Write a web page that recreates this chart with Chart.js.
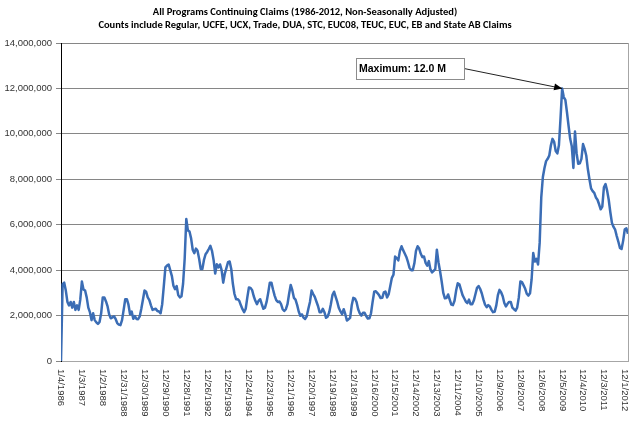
<!DOCTYPE html>
<html>
<head>
<meta charset="utf-8">
<script src="https://cdn.jsdelivr.net/npm/chart.js@4.4.1/dist/chart.umd.min.js"></script>
<style>
  html, body { margin: 0; padding: 0; background: #fff; }
  #wrap { width: 640px; height: 426px; }
</style>
</head>
<body>
<div id="wrap"><canvas id="claimsChart" width="640" height="426"></canvas></div>
<script>
// all programs continuing claims, millions, one reading every 4 weeks from 1/4/1986
const claims1986to1989 = [
  0, 3.38, 3.45, 3.1, 2.6, 2.45, 2.6, 2.35, 2.6, 2.25, 2.45, 2.25, 2.7,
  3.5, 3.15, 3.1, 2.8, 2.35, 2.15, 1.8, 2.1, 1.8, 1.7, 1.63, 1.72, 2.1,
  2.8, 2.8, 2.62, 2.4, 2.05, 1.88, 1.92, 1.97, 1.85, 1.67, 1.6, 1.58, 1.8,
  2.25, 2.72, 2.72, 2.48, 2.06, 2.18, 1.86, 1.98, 1.85, 1.84, 1.96, 2.3, 2.7
];
const claims1990to1993 = [
  3.1, 3.05, 2.8, 2.68, 2.45, 2.25, 2.28, 2.3, 2.2, 2.18, 2.1, 2.5, 3.3,
  4.12, 4.2, 4.25, 4.0, 3.75, 3.31, 3.16, 3.3, 2.9, 2.8, 2.85, 3.4, 4.5,
  6.25, 5.75, 5.7, 5.4, 4.9, 4.75, 4.95, 4.85, 4.5, 4.05, 4.05, 4.45, 4.7,
  4.8, 4.93, 5.07, 4.85, 4.45, 3.85, 4.26, 4.12, 4.25, 4.0, 3.45, 3.85, 4.1
];
const claims1994to1997 = [
  4.35, 4.38, 4.05, 3.4, 2.95, 2.72, 2.72, 2.65, 2.45, 2.28, 2.15, 2.3, 2.8,
  3.24, 3.22, 3.12, 2.85, 2.65, 2.5, 2.65, 2.72, 2.5, 2.3, 2.35, 2.6, 3.0,
  3.45, 3.45, 3.15, 2.88, 2.68, 2.6, 2.62, 2.5, 2.28, 2.2, 2.28, 2.5, 2.95,
  3.35, 3.12, 2.78, 2.7, 2.47, 2.18, 1.99, 2.05, 1.91, 1.85, 1.97, 2.3, 2.6
];
const claims1998to2001 = [
  3.1, 2.95, 2.82, 2.62, 2.42, 2.15, 2.15, 2.3, 2.15, 1.9, 1.95, 2.15, 2.5,
  2.9, 3.05, 2.82, 2.6, 2.33, 2.18, 2.06, 2.28, 2.06, 1.78, 1.84, 1.9, 2.45,
  2.78, 2.75, 2.6, 2.28, 2.1, 2.0, 2.12, 2.12, 1.98, 1.87, 1.88, 2.1, 2.6,
  3.05, 3.07, 2.99, 2.9, 2.77, 2.78, 3.02, 3.06, 2.8, 2.94, 3.3, 3.66, 3.8
];
const claims2002to2005 = [
  4.6, 4.53, 4.43, 4.85, 5.05, 4.88, 4.73, 4.58, 4.36, 4.1, 4.0, 4.0, 4.3,
  4.85, 5.05, 4.95, 4.72, 4.57, 4.6, 4.32, 4.2, 4.4, 4.03, 3.9, 3.97, 4.04,
  4.9, 4.35, 3.95, 3.5, 3.0, 2.76, 2.77, 2.93, 2.7, 2.48, 2.46, 2.65, 3.1,
  3.42, 3.38, 3.14, 2.9, 2.76, 2.62, 2.55, 2.7, 2.5, 2.5, 2.66, 2.94, 3.22
];
const claims2006to2009 = [
  3.3, 3.17, 2.97, 2.7, 2.48, 2.37, 2.46, 2.4, 2.25, 2.15, 2.17, 2.45, 2.9,
  3.13, 3.03, 2.85, 2.55, 2.4, 2.52, 2.6, 2.6, 2.35, 2.28, 2.22, 2.35, 2.79,
  3.5, 3.47, 3.33, 3.18, 2.96, 2.88, 2.98, 3.6, 4.75, 4.38, 4.5, 4.25, 5.2,
  7.2, 8.1, 8.5, 8.8, 8.9, 9.05, 9.5, 9.78, 9.65, 9.24, 9.14, 9.5, 10.7
];
const claims2010to2012 = [
  12.0, 11.62, 11.5, 10.95, 10.35, 9.78, 9.45, 8.5, 10.1, 9.15, 8.68, 8.7, 8.9,
  9.55, 9.34, 9.05, 8.45, 8.0, 7.6, 7.48, 7.4, 7.2, 7.1, 6.9, 6.68, 6.8,
  7.65, 7.79, 7.5, 7.1, 6.55, 6.08, 5.9, 5.78, 5.5, 5.25, 4.98, 4.93, 5.3,
  5.8, 5.84, 5.6
];

// one label every 52 weeks = every 13 readings
const xTickLabels = [
  "1/4/1986", "1/3/1987", "1/2/1988", "12/31/1988", "12/30/1989", "12/29/1990",
  "12/28/1991", "12/26/1992", "12/25/1993", "12/24/1994", "12/23/1995", "12/21/1996",
  "12/20/1997", "12/19/1998", "12/18/1999", "12/16/2000", "12/15/2001", "12/14/2002",
  "12/13/2003", "12/11/2004", "12/10/2005", "12/9/2006", "12/8/2007", "12/6/2008",
  "12/5/2009", "12/4/2010", "12/3/2011", "12/1/2012"
];
const POINTS_PER_LABEL = 13;

const titleLines = [
  "All Programs Continuing Claims (1986-2012, Non-Seasonally Adjusted)",
  "Counts include Regular, UCFE, UCX, Trade, DUA, STC, EUC08, TEUC, EUC, EB and State AB Claims"
];

const allClaims = [].concat(claims1986to1989, claims1990to1993, claims1994to1997,
  claims1998to2001, claims2002to2005, claims2006to2009, claims2010to2012);
const points = allClaims.map((v, i) => ({ x: i, y: v }));

const FONT = "'Liberation Sans', Arial, sans-serif";

const decorPlugin = {
  id: "decor",
  afterDraw(chart) {
    const { ctx, chartArea: area, scales: { x, y } } = chart;
    ctx.save();

    // right edge of the plot area
    ctx.strokeStyle = "#a6a6a6";
    ctx.lineWidth = 1;
    ctx.beginPath();
    ctx.moveTo(Math.round(area.right) + 0.5, area.top);
    ctx.lineTo(Math.round(area.right) + 0.5, area.bottom);
    ctx.stroke();

    // rotated date labels (read top to bottom)
    ctx.fillStyle = "#333";
    ctx.font = "9.5px " + FONT;
    ctx.textAlign = "left";
    ctx.textBaseline = "middle";
    xTickLabels.forEach((lab, k) => {
      const px = x.getPixelForValue(k * POINTS_PER_LABEL);
      ctx.save();
      ctx.translate(px, area.bottom + 8);
      ctx.rotate(Math.PI / 2);
      ctx.fillText(lab, 0, 0);
      ctx.restore();
    });

    // title
    ctx.fillStyle = "#000";
    ctx.font = "bold 10.5px Carlito, Lato, sans-serif";
    ctx.textAlign = "center";
    ctx.textBaseline = "alphabetic";
    ctx.fillText(titleLines[0], 305, 15);
    ctx.fillText(titleLines[1], 305, 28);

    // maximum callout
    let maxIdx = 0;
    allClaims.forEach((v, i) => { if (v > allClaims[maxIdx]) maxIdx = i; });
    const tx = x.getPixelForValue(maxIdx);
    const ty = y.getPixelForValue(allClaims[maxIdx]);
    const bx = area.left + 295, by = area.top + 15, bw = 108, bh = 21;

    ctx.strokeStyle = "#222";
    ctx.lineWidth = 1;
    ctx.beginPath();
    ctx.moveTo(bx + bw, by + bh / 2);
    ctx.lineTo(tx, ty);
    ctx.stroke();
    const ang = Math.atan2(ty - (by + bh / 2), tx - (bx + bw));
    ctx.fillStyle = "#000";
    ctx.beginPath();
    ctx.moveTo(tx, ty);
    ctx.lineTo(tx - 8 * Math.cos(ang) + 3.5 * Math.sin(ang), ty - 8 * Math.sin(ang) - 3.5 * Math.cos(ang));
    ctx.lineTo(tx - 8 * Math.cos(ang) - 3.5 * Math.sin(ang), ty - 8 * Math.sin(ang) + 3.5 * Math.cos(ang));
    ctx.closePath();
    ctx.fill();

    ctx.fillStyle = "#fff";
    ctx.fillRect(bx, by, bw, bh);
    ctx.strokeStyle = "#8c8c8c";
    ctx.strokeRect(bx + 0.5, by + 0.5, bw, bh);
    ctx.fillStyle = "#000";
    ctx.font = "bold 10.5px " + FONT;
    ctx.textAlign = "left";
    ctx.textBaseline = "middle";
    ctx.fillText("Maximum: " + allClaims[maxIdx].toFixed(1) + " M", bx + 3, by + bh / 2 + 1);

    ctx.restore();
  }
};

new Chart(document.getElementById("claimsChart"), {
  type: "line",
  data: {
    datasets: [{
      label: "Continuing Claims",
      data: points,
      borderColor: "#3b6db5",
      borderWidth: 2.5,
      pointRadius: 0,
      tension: 0,
      borderJoinStyle: "round"
    }]
  },
  options: {
    responsive: false,
    animation: false,
    layout: { padding: { top: 43, right: 12, bottom: 65, left: 0 } },
    plugins: { legend: { display: false }, tooltip: { enabled: false }, title: { display: false } },
    scales: {
      x: {
        type: "linear",
        min: 0,
        max: allClaims.length - 1,
        grid: { display: false },
        border: { display: true, color: "#a6a6a6" },
        ticks: { display: false },
        afterFit: (s) => { s.height = 0; }
      },
      y: {
        min: 0,
        max: 14,
        grid: { color: "#868686", tickLength: 5 },
        border: { color: "#000" },
        ticks: {
          stepSize: 2,
          padding: 4,
          color: "#333",
          font: { family: FONT, size: 9.5 },
          callback: (v) => (v * 1e6).toLocaleString("en-US")
        },
        afterFit: (s) => { s.width = 61; }
      }
    }
  },
  plugins: [decorPlugin]
});
</script>
</body>
</html>
